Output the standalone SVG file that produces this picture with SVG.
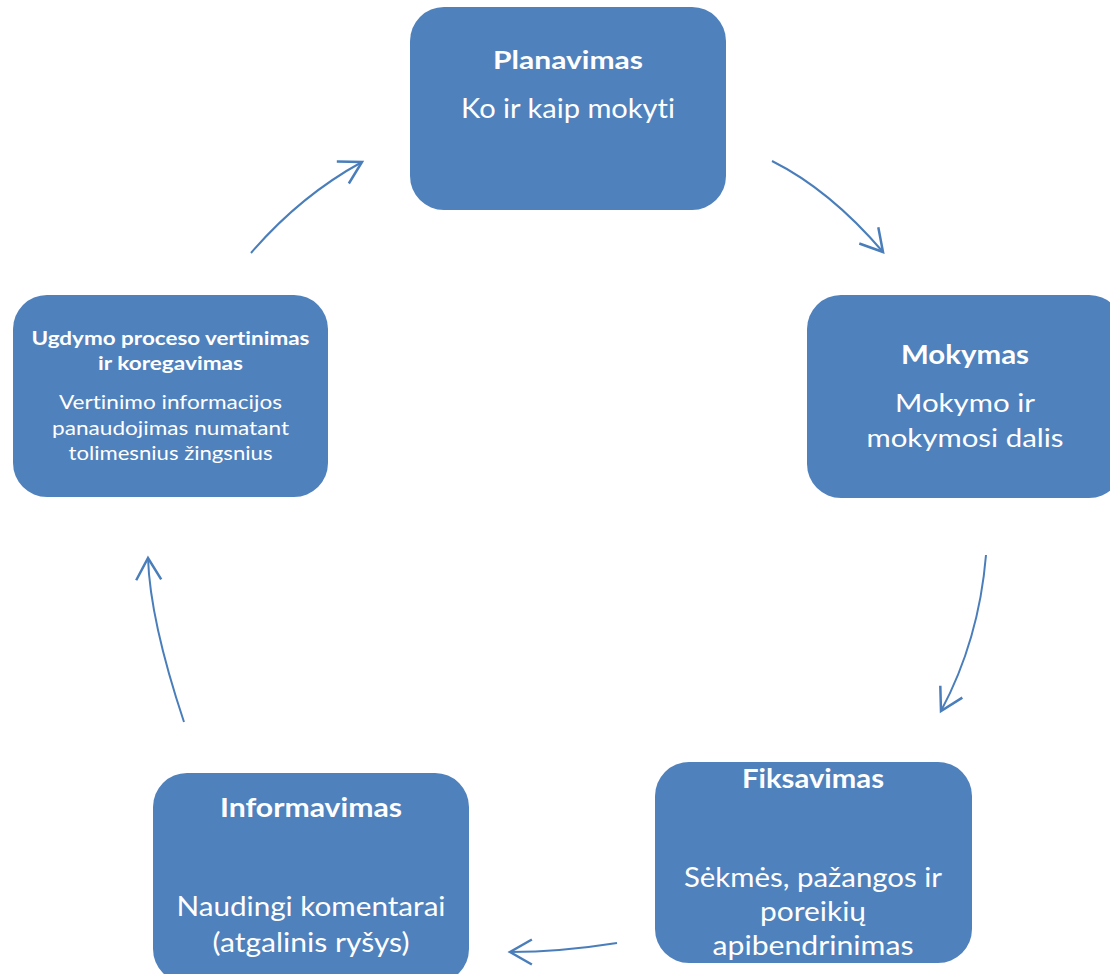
<svg xmlns="http://www.w3.org/2000/svg" width="1110" height="974" viewBox="0 0 1110 974">
<style>
.box{fill:#4f81bd;}
.t{fill:#ffffff;font-family:Lato,"Open Sans","Liberation Sans",sans-serif;text-anchor:middle;font-variant-ligatures:none;font-feature-settings:"liga" 0,"clig" 0;}
.b{font-weight:bold;}
.arr{fill:none;stroke:#4a7ebb;stroke-width:2;marker-end:url(#ah);}
</style>
<defs>
<marker id="ah" markerUnits="userSpaceOnUse" markerWidth="30" markerHeight="30" viewBox="-20 -12 22 24" refX="0" refY="0" orient="auto" overflow="visible">
<path d="M-17.5,-10 L0,0 L-17.5,10" fill="none" stroke="#4a7ebb" stroke-width="2"/>
</marker>
</defs>
<rect width="1110" height="974" fill="#ffffff"/>
<g id="connectors">
<path class="arr" d="M251,253 Q300,196 362,162"/>
<path class="arr" d="M772,161 Q830,190 883,252"/>
<path class="arr" d="M986,555 Q979,640 941,711"/>
<path class="arr" d="M617,943 Q560,952 510,952"/>
<path class="arr" d="M184,722 Q150,620 148,558"/>
</g>
<g id="planavimas">
<rect class="box" x="410" y="7" width="316" height="203" rx="34"/>
<text class="t b" x="568" y="69" font-size="25" textLength="150" lengthAdjust="spacingAndGlyphs">Planavimas</text>
<text class="t" x="568" y="118" font-size="27" textLength="214" lengthAdjust="spacingAndGlyphs">Ko ir kaip mokyti</text>
</g>
<g id="mokymas">
<rect class="box" x="807" y="295" width="316" height="203" rx="34"/>
<text class="t b" x="965" y="364" font-size="26" textLength="128" lengthAdjust="spacingAndGlyphs">Mokymas</text>
<text class="t" x="965" y="412" font-size="25" textLength="140" lengthAdjust="spacingAndGlyphs">Mokymo ir</text>
<text class="t" x="965" y="447" font-size="25" textLength="197" lengthAdjust="spacingAndGlyphs">mokymosi dalis</text>
</g>
<g id="fiksavimas">
<rect class="box" x="655" y="762" width="317" height="201" rx="34"/>
<text class="t b" x="813" y="788" font-size="26" textLength="142" lengthAdjust="spacingAndGlyphs">Fiksavimas</text>
<text class="t" x="813" y="887" font-size="26" textLength="258" lengthAdjust="spacingAndGlyphs">Sėkmės, pažangos ir</text>
<text class="t" x="813" y="921" font-size="26" textLength="106" lengthAdjust="spacingAndGlyphs">poreikių</text>
<text class="t" x="813" y="955" font-size="26" textLength="201" lengthAdjust="spacingAndGlyphs">apibendrinimas</text>
</g>
<g id="informavimas">
<rect class="box" x="153" y="773" width="316" height="210" rx="34"/>
<text class="t b" x="311" y="817" font-size="26" textLength="182" lengthAdjust="spacingAndGlyphs">Informavimas</text>
<text class="t" x="311" y="916" font-size="26" textLength="269" lengthAdjust="spacingAndGlyphs">Naudingi komentarai</text>
<text class="t" x="311" y="952" font-size="26" textLength="197" lengthAdjust="spacingAndGlyphs">(atgalinis ryšys)</text>
</g>
<g id="vertinimas">
<rect class="box" x="13" y="295" width="315" height="202" rx="34"/>
<text class="t b" x="170.5" y="345" font-size="19" textLength="278" lengthAdjust="spacingAndGlyphs">Ugdymo proceso vertinimas</text>
<text class="t b" x="170.5" y="370" font-size="19" textLength="145" lengthAdjust="spacingAndGlyphs">ir koregavimas</text>
<text class="t" x="170.5" y="409" font-size="19" textLength="223" lengthAdjust="spacingAndGlyphs">Vertinimo informacijos</text>
<text class="t" x="170.5" y="435" font-size="19" textLength="237" lengthAdjust="spacingAndGlyphs">panaudojimas numatant</text>
<text class="t" x="170.5" y="460" font-size="19" textLength="204" lengthAdjust="spacingAndGlyphs">tolimesnius žingsnius</text>
</g>
</svg>
